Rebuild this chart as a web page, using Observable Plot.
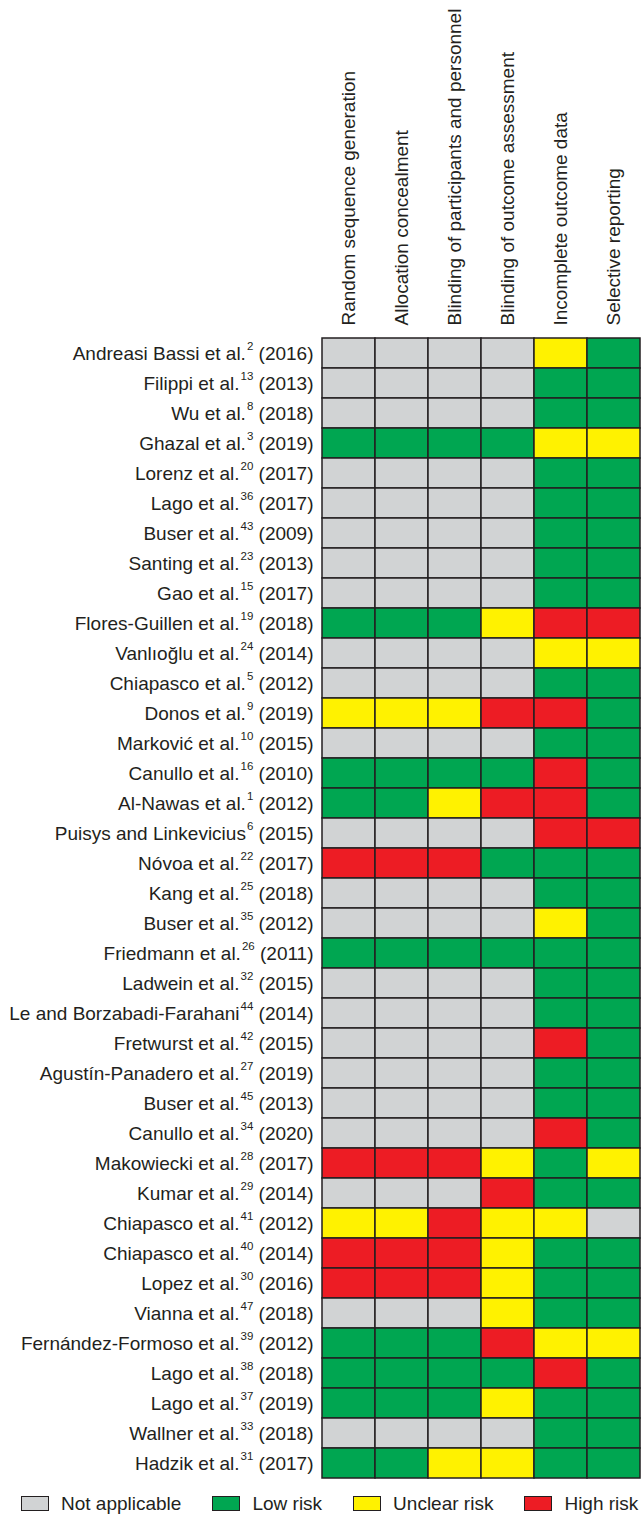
<!DOCTYPE html>
<html>
<head>
<meta charset="utf-8">
<script src="https://cdn.jsdelivr.net/npm/d3@7"></script>
<script src="https://cdn.jsdelivr.net/npm/@observablehq/plot@0.6"></script>
<style>
  html, body { margin: 0; padding: 0; background: #fff; }
  body { font-family: "Liberation Sans", Arial, sans-serif; color: #231f20; width: 642px; }
  #chart svg { display: block; }
  #legend { display: flex; align-items: center; height: 27px; padding-left: 21px; margin-top: 0; font-size: 19px; white-space: nowrap; }
  #legend .item { display: flex; align-items: center; margin-right: 31px; }
  #legend .item:last-child { margin-right: 0; }
  #legend .sw { width: 26px; height: 13px; border: 1.5px solid #231f20; margin-right: 12px; }
</style>
</head>
<body>
<div id="chart"></div>
<div id="legend"></div>
<script>
// Risk-of-bias domains (columns)
const domains = [
  "Random sequence generation",
  "Allocation concealment",
  "Blinding of participants and personnel",
  "Blinding of outcome assessment",
  "Incomplete outcome data",
  "Selective reporting"
];

// Studies (rows)
const authors = [
  "Andreasi Bassi et al.", "Filippi et al.", "Wu et al.", "Ghazal et al.", "Lorenz et al.",
  "Lago et al.", "Buser et al.", "Santing et al.", "Gao et al.", "Flores-Guillen et al.",
  "Vanlıoğlu et al.", "Chiapasco et al.", "Donos et al.", "Marković et al.", "Canullo et al.",
  "Al-Nawas et al.", "Puisys and Linkevicius", "Nóvoa et al.", "Kang et al.", "Buser et al.",
  "Friedmann et al.", "Ladwein et al.", "Le and Borzabadi-Farahani", "Fretwurst et al.", "Agustín-Panadero et al.",
  "Buser et al.", "Canullo et al.", "Makowiecki et al.", "Kumar et al.", "Chiapasco et al.",
  "Chiapasco et al.", "Lopez et al.", "Vianna et al.", "Fernández-Formoso et al.", "Lago et al.",
  "Lago et al.", "Wallner et al.", "Hadzik et al."
];
const refs = [
  "2", "13", "8", "3", "20",
  "36", "43", "23", "15", "19",
  "24", "5", "9", "10", "16",
  "1", "6", "22", "25", "35",
  "26", "32", "44", "42", "27",
  "45", "34", "28", "29", "41",
  "40", "30", "47", "39", "38",
  "37", "33", "31"
];
const years = [
  "2016", "2013", "2018", "2019", "2017",
  "2017", "2009", "2013", "2017", "2018",
  "2014", "2012", "2019", "2015", "2010",
  "2012", "2015", "2017", "2018", "2012",
  "2011", "2015", "2014", "2015", "2019",
  "2013", "2020", "2017", "2014", "2012",
  "2014", "2016", "2018", "2012", "2018",
  "2019", "2018", "2017"
];

// Judgements per study, one code per domain:
// N = not applicable, L = low risk, U = unclear risk, H = high risk
const judgements = [
  "NNNNUL", "NNNNLL", "NNNNLL", "LLLLUU", "NNNNLL",
  "NNNNLL", "NNNNLL", "NNNNLL", "NNNNLL", "LLLUHH",
  "NNNNUU", "NNNNLL", "UUUHHL", "NNNNLL", "LLLLHL",
  "LLUHHL", "NNNNHH", "HHHLLL", "NNNNLL", "NNNNUL",
  "LLLLLL", "NNNNLL", "NNNNLL", "NNNNHL", "NNNNLL",
  "NNNNLL", "NNNNHL", "HHHULU", "NNNHLL", "UUHUUN",
  "HHHULL", "HHHULL", "NNNULL", "LLLHUU", "LLLLHL",
  "LLLULL", "NNNNLL", "LLUULL"
];

// Legend categories
const levels = ["N", "L", "U", "H"];
const levelLabels = ["Not applicable", "Low risk", "Unclear risk", "High risk"];
const levelColors = ["#d1d3d4", "#00a651", "#fff200", "#ed1c24"];

// Build table
const keys = authors.map((a, i) => `${a}|${refs[i]}|${years[i]}`);
const table = [];
keys.forEach((k, i) => {
  domains.forEach((d, j) => {
    table.push({ study: k, domain: d, level: judgements[i][j] });
  });
});

const plot = Plot.plot({
  width: 642,
  height: 1490,
  marginLeft: 320,
  marginRight: 0.5,
  marginTop: 335,
  marginBottom: 10,
  style: { fontFamily: "'Liberation Sans', Arial, sans-serif", fontSize: "19px", color: "#231f20", background: "#fff" },
  x: { domain: domains, padding: 0, axis: "top", tickRotate: -90, tickSize: 0, tickPadding: 10, label: null },
  y: { domain: keys, padding: 0, tickSize: 0, tickPadding: 7, label: null, tickFormat: d => d },
  color: { domain: levels, range: levelColors },
  marks: [
    Plot.cell(table, { x: "domain", y: "study", fill: "level", stroke: "#231f20", strokeWidth: 1.5, inset: 0 })
  ]
});

// Rebuild y tick labels with superscript reference numbers
d3.select(plot).selectAll('g[aria-label="y-axis tick label"] text').each(function () {
  const t = d3.select(this);
  const parts = t.text().split("|");
  t.text(null);
  t.append("tspan").text(parts[0]);
  t.append("tspan").attr("font-size", "11.5px").attr("dy", "-10").attr("dx", "1").text(parts[1]);
  t.append("tspan").attr("dy", "10").text(" (" + parts[2] + ")");
});
d3.select(plot).selectAll('g[aria-label="x-axis tick label"] text').attr("fill", "#231f20");
d3.select(plot).selectAll('g[aria-label="y-axis tick label"] text').attr("fill", "#231f20");

document.getElementById("chart").appendChild(plot);

// Legend from the color scale
const color = plot.scale("color");
const legend = d3.select("#legend");
levels.forEach((lv, i) => {
  const item = legend.append("div").attr("class", "item");
  item.append("div").attr("class", "sw").style("background", color.apply(lv));
  item.append("span").text(levelLabels[i]);
});
</script>
</body>
</html>
